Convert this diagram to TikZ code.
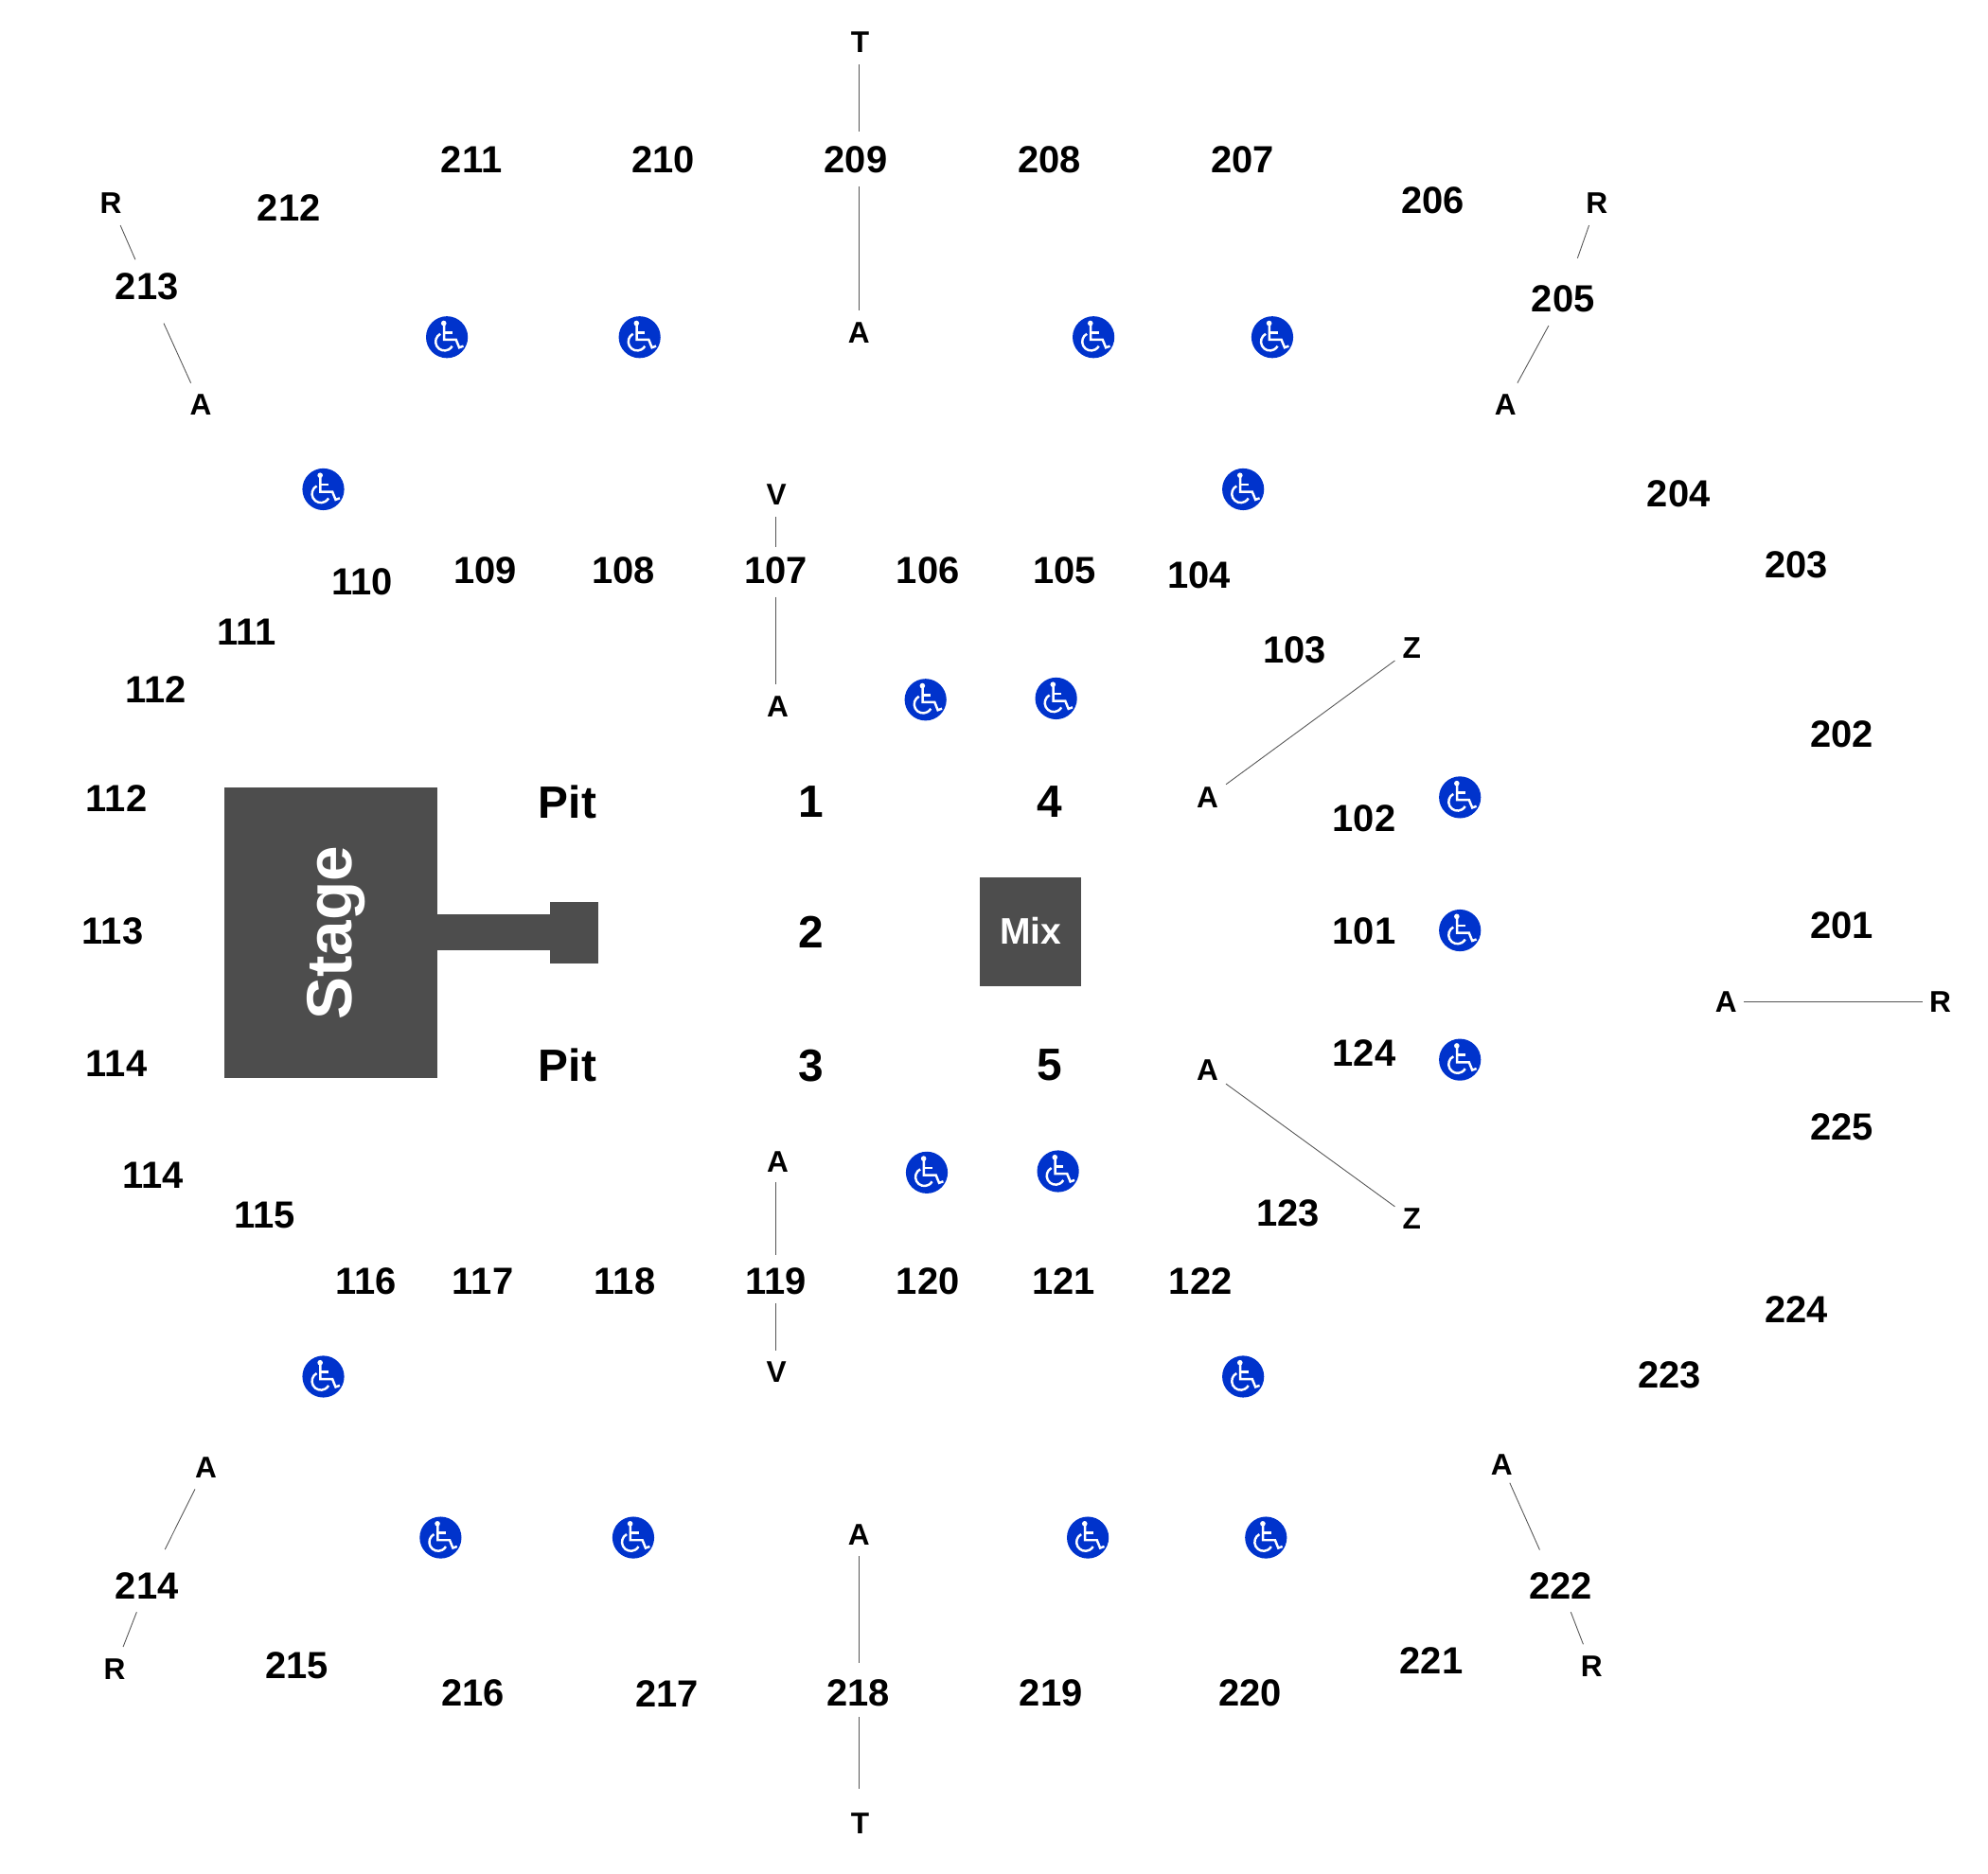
\documentclass[tikz,border=0pt]{standalone}
\usepackage{fontspec}
\setmainfont{Liberation Sans}
\definecolor{stagecol}{HTML}{4d4d4d}
\definecolor{linecol}{HTML}{555555}
\definecolor{accesscol}{HTML}{0033cc}
\tikzset{
  seclabel/.style={font=\bfseries\fontsize{22.7}{24}\selectfont, inner sep=0pt, outer sep=8pt, xshift=0.7pt, yshift=0.1pt},
  rowlabel/.style={font=\bfseries\fontsize{18}{20}\selectfont, inner sep=0pt, outer sep=7pt, xshift=0.3pt, yshift=0.4pt},
  pitlabel/.style={font=\bfseries\fontsize{27.2}{29}\selectfont, inner sep=0pt, xshift=0.5pt, yshift=0.4pt},
  rowline/.style={linecol, line width=0.5pt},
  accesspart/.style={white, line width=1.4pt},
}
\newcommand{\accessicon}[2]{%
  \fill[accesscol] (#1,#2) circle (16.5);
  \begin{scope}[shift={(#1,#2)}]
    \fill[white] (-2.5,-11) circle (2.1);
    \draw[accesspart] (-2.3,-10) -- (-2.3,2) -- (7.2,2) -- (9.7,8.2) -- (13,7);
    \draw[accesspart] (-2.3,-3.7) -- (4.2,-3.7);
    \draw[accesspart] (-5.2,-2.6) arc[start angle=242, end angle=30, radius=7];
  \end{scope}
}
\begin{document}
\begin{tikzpicture}[x=0.026786cm, y=-0.026786cm]
\useasboundingbox (0,0) rectangle (1568,1478.4);

% --- Stage, runway and mix position ---
\fill[stagecol] (177,621) rectangle (345,850.5);
\fill[stagecol] (345,721) rectangle (434,750);
\fill[stagecol] (434,711.5) rectangle (472,760);
\fill[stagecol] (773,692) rectangle (853,778);
\node[white, rotate=90, anchor=base, font=\bfseries\fontsize{38.4}{40}\selectfont] (stagelabel) at (277.5,736) {Stage};
\node[white, font=\bfseries\fontsize{22.2}{24}\selectfont, inner sep=0pt] (mixlabel) at (813,734.5) {Mix};

% --- Floor sections ---
\node[pitlabel] (pitA) at (447,633) {Pit};
\node[pitlabel] (pitB) at (447,841) {Pit};
\foreach \x/\y/\t in {639/633/1, 639/736/2, 639/841/3, 827/633/4, 827/841/5} {
  \node[pitlabel] (floor\t) at (\x,\y) {\t};
}

% --- Lower bowl ---
\foreach \x/\y/\t in {1075/735/101, 1075/646/102, 1020/513/103, 945/454/104, 839/450/105,
    731/450/106, 611/450/107, 491/450/108, 382/450/109, 285/459/110, 194/499/111, 122/544/112,
    88/735/113, 91/839/114, 208/959/115, 288/1011/116, 380/1011/117, 492/1011/118, 611/1011/119,
    731/1011/120, 838/1011/121, 946/1011/122, 1015/957/123, 1075/831/124} {
  \node[seclabel] (sec\t) at (\x,\y) {\t};
}
\node[seclabel] (sec112b) at (91,630) {112};
\node[seclabel] (sec114b) at (120,927) {114};

% --- Upper bowl ---
\foreach \x/\y/\t in {1452/730/201, 1452/579/202, 1416/446/203, 1323/390/204, 1232/236/205,
    1129/158/206, 979/126/207, 827/126/208, 674/126/209, 522/126/210, 371/126/211, 227/164/212,
    115/226/213, 115/1251/214, 233/1314/215, 372/1336/216, 525/1336/217, 676/1336/218,
    828/1336/219, 985/1336/220, 1128/1310/221, 1230/1251/222, 1316/1085/223, 1416/1033/224,
    1452/889/225} {
  \node[seclabel] (sec\t) at (\x,\y) {\t};
}

% --- Row letters ---
\foreach \n/\x/\y/\t in {topT/678/34/T, topA/677/263/A, nwR/87/161/R, nwA/158/320/A,
    neR/1259/161/R, neA/1187/320/A, upV/612/391/V, upA/613/558/A, zupZ/1113/512/Z, zupA/952/630/A,
    zlowA/952/845/A, zlowZ/1113/962/Z, eastA/1361/791/A, eastR/1530/791/R, lowA/613/917/A,
    lowV/612/1083/V, swA/162/1158/A, swR/90/1317/R, botA/677/1211/A, botT/678/1439/T,
    seA/1184/1156/A, seR/1255/1315/R} {
  \node[rowlabel] (\n) at (\x,\y) {\t};
}

% --- Row lines ---
\draw[rowline, shorten >=1pt] (topT.south -| topA) -- (sec209.north -| topA);
\draw[rowline] (sec209.south -| topA) -- (topA.north);
\draw[rowline] (nwR) -- (sec213);
\draw[rowline, shorten <=6.8pt] (sec213) -- (nwA);
\draw[rowline, shorten >=9pt] (neR) -- (sec205);
\draw[rowline] (sec205) -- (neA);
\draw[rowline, shorten >=-2pt] (upV.south -| sec107) -- (sec107.north);
\draw[rowline] (sec107.south) -- (upA.north -| sec107);
\draw[rowline, shorten >=-3pt, shorten <=-3pt] (zupZ) -- (zupA);
\draw[rowline, shorten >=-3pt, shorten <=-3pt] (zlowA) -- (zlowZ);
\draw[rowline, shorten >=-3pt, shorten <=-3pt] (eastA) -- (eastR);
\draw[rowline, shorten <=-1pt] (lowA.south -| sec119) -- (sec119.north);
\draw[rowline, shorten <=-3pt] (sec119.south) -- (lowV.north -| sec119);
\draw[rowline, shorten >=6.5pt] (swA) -- (sec214);
\draw[rowline] (sec214) -- (swR);
\draw[rowline, shorten >=2pt] (botA.south) -- (sec218.north -| botA);
\draw[rowline, shorten <=-2pt, shorten >=7.5pt] (sec218.south -| botA) -- (botT.north -| botA);
\draw[rowline, shorten <=12pt, shorten >=23.5pt] (seA.center) -- ([xshift=-3pt]sec222.center);
\draw[rowline] (sec222) -- (seR);

% --- Accessible seating ---
\foreach \x/\y in {352.5/266, 504.5/266, 862.5/266, 1003.5/266, 255/386, 980.5/386, 730/552, 833/551,
    1151.5/629, 1151.5/734, 1151.5/836, 731/925, 834.5/924, 255/1086, 980.5/1086, 347.5/1213, 499.5/1213,
    858/1213, 998.5/1213} {
  \accessicon{\x}{\y}
}

\end{tikzpicture}
\end{document}
